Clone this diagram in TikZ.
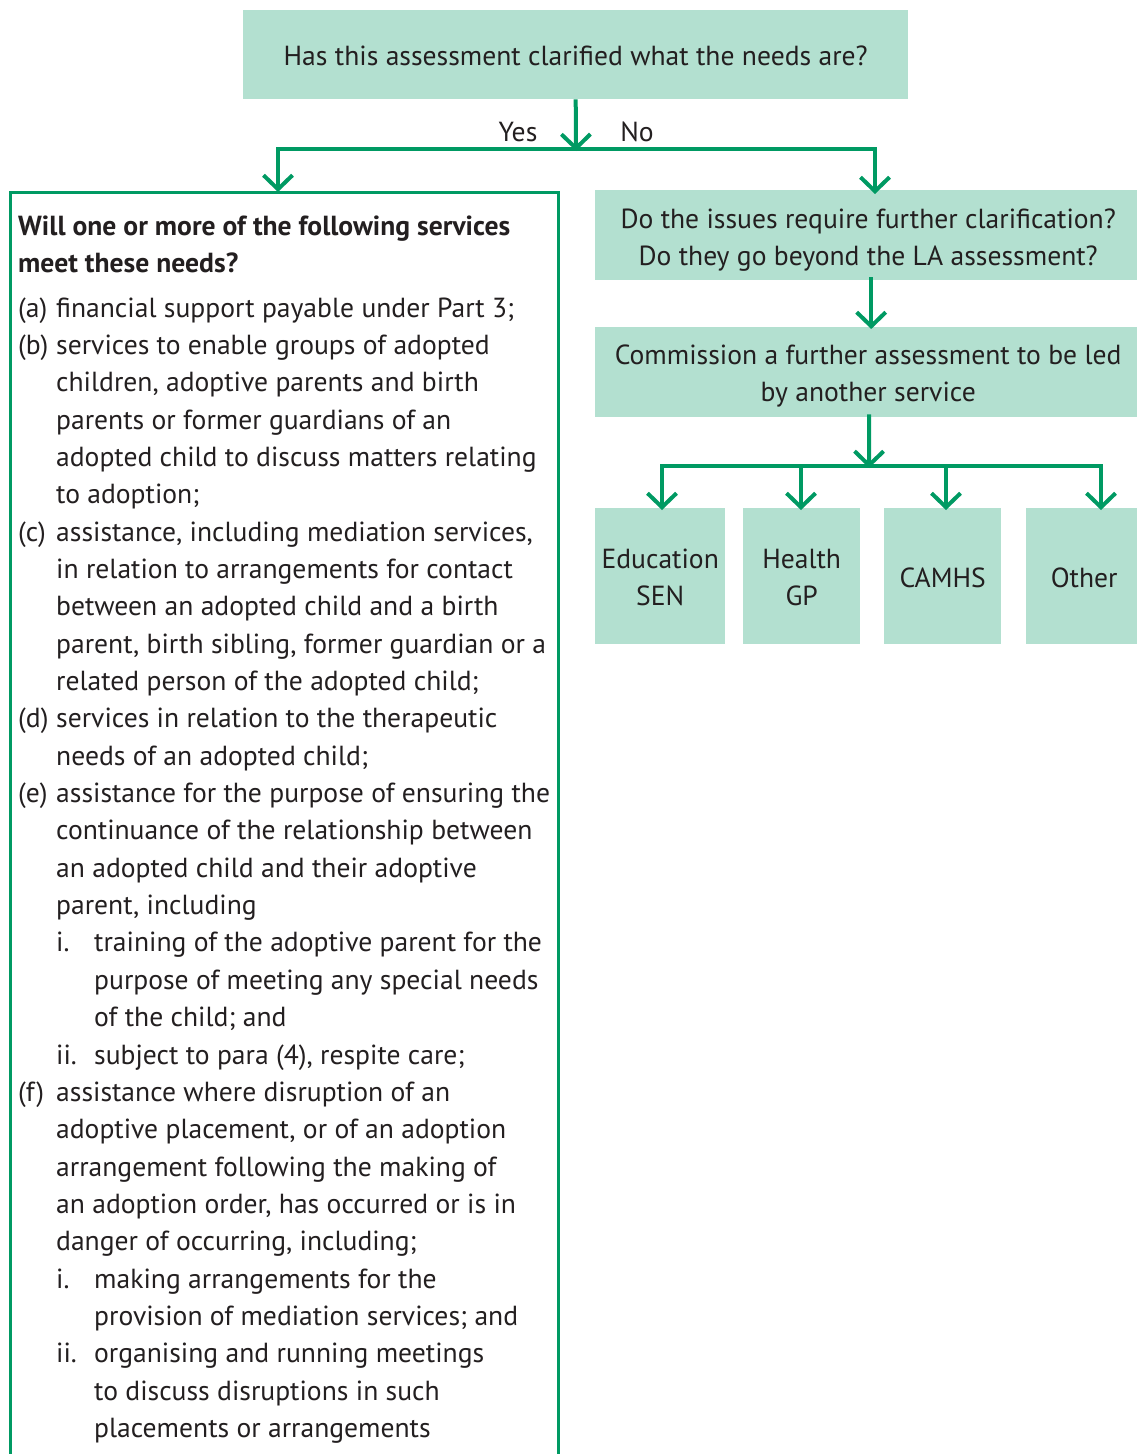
\documentclass[tikz,border=0pt]{standalone}
\usepackage{fontspec}
\setmainfont{PT Sans}
\usetikzlibrary{arrows.meta}
\definecolor{boxfill}{RGB}{179,224,208}
\definecolor{gline}{RGB}{0,154,99}
\definecolor{ink}{RGB}{35,31,32}
\newlength\reflen
\AtBeginDocument{%
  \settowidth\reflen{\fontsize{20pt}{24pt}\selectfont Has this assessment clarified what the needs are?}%
  \pgfmathsetmacro\fsz{20*584/\reflen}%
  \xdef\fsz{\fsz}}
\newcommand\btext[2]{\raisebox{-#1pt}[0pt][0pt]{\begin{tabular}[t]{@{}c@{}}#2\end{tabular}}}
\newcommand\Lrow[3]{\node[txt] (r#1) at (#2,{317+(#1-1)*37.35}) {#3};}
\newcommand\Llab[4]{\node[txt] (#1) at (#2,{317+(#3-1)*37.35}) {#4};}
\begin{document}
\begin{tikzpicture}[x=1pt,y=-1pt]
\tikzset{
  every node/.style={font=\fontsize{\fsz}{37.35}\selectfont, text=ink},
  txt/.style={anchor=base west, inner sep=0pt},
  hdr/.style={txt, font=\fontsize{\fsz}{37.35}\selectfont\bfseries},
  fbox/.style={fill=boxfill, inner sep=0pt, anchor=north west},
  conn/.style={draw=gline, line width=4pt, line join=miter},
  arr/.style={conn, -{Straight Barb[length=14pt,width=29pt]}},
  twoarr/.style={conn, {Straight Barb[length=14pt,width=29pt]}-{Straight Barb[length=14pt,width=29pt]}}
}
\fill[white] (0,0) rectangle (1137,1454);
\useasboundingbox (0,0) rectangle (1137,1454);

% top question
\node[fbox, minimum width=665, minimum height=89] (q1) at (243,10) {\btext{10.5}{Has this assessment clarified what the needs are?}};
\node[anchor=base, inner sep=0pt] (yes) at (518,141) {Yes};
\node[anchor=base, inner sep=0pt] (no) at (637,141) {No};

% left box
\node[draw=gline, line width=2.5pt, anchor=north west, inner sep=0pt, minimum width=548, minimum height=1300] (L) at (9,191) {};

% right boxes
\node[fbox, minimum width=546, minimum height=90] (R1) at (595,190) {\btext{-7}{Do the issues require further clarification?\\Do they go beyond the LA assessment?}};
\node[fbox, minimum width=546, minimum height=90] (R2) at (595,327) {\btext{-8}{Commission a further assessment to be led\\by another service}};

\node[fbox, minimum width=130, minimum height=136] (A) at (595,508) {\btext{-8}{Education\\SEN}};
\node[fbox, minimum width=117, minimum height=136] (B) at (743,508) {\btext{-8}{Health\\GP}};
\node[fbox, minimum width=117, minimum height=136] (C) at (884,508) {\btext{11}{CAMHS}};
\node[fbox, minimum width=116, minimum height=136] (D) at (1026,508) {\btext{11}{Other}};

% connectors: first fork
\coordinate (j1) at (576,149);
\coordinate (j1l) at (278,149);
\coordinate (j1r) at (875,149);
\draw[arr] (q1.south) -- ([yshift=-2]j1);
\draw[twoarr] ([yshift=-1]L.north -| j1l) -- (j1l) -- (j1r) -- ([yshift=-4]R1.north -| j1r);

% right chain
\draw[arr] ([xshift=3,yshift=3]R1.south) -- ([xshift=3,yshift=-2]R2.north);
\coordinate (j2) at (869,466);
\coordinate (fA) at (662,466);
\coordinate (fB) at (801,466);
\coordinate (fC) at (946,466);
\coordinate (fD) at (1101,466);
\draw[arr] ([xshift=1,yshift=3]R2.south) -- ([yshift=-2]j2);
\draw[twoarr] ([yshift=-2]A.north -| fA) -- (fA) -- (fD) -- ([yshift=-2]D.north -| fD);
\draw[arr] (fB) -- ([yshift=-2]B.north -| fB);
\draw[arr] (fC) -- ([yshift=-2]C.north -| fC);

% left box text
\node[hdr] (h1) at (18,235) {Will one or more of the following services};
\node[hdr] (h2) at (18,272) {meet these needs?};

\Llab{la}{18}{1}{(a)}
\Llab{lb}{18}{2}{(b)}
\Llab{lc}{18}{7}{(c)}
\Llab{ld}{18}{12}{(d)}
\Llab{le}{18}{14}{(e)}
\Llab{lei}{56}{18}{i.}
\Llab{leii}{56}{21}{ii.}
\Llab{lf}{18}{22}{(f)}
\Llab{lfi}{56}{27}{i.}
\Llab{lfii}{56}{29}{ii.}

\Lrow{1}{56}{financial support payable under Part 3;}
\Lrow{2}{56}{services to enable groups of adopted}
\Lrow{3}{56}{children, adoptive parents and birth}
\Lrow{4}{56}{parents or former guardians of an}
\Lrow{5}{56}{adopted child to discuss matters relating}
\Lrow{6}{56}{to adoption;}
\Lrow{7}{56}{assistance, including mediation services,}
\Lrow{8}{56}{in relation to arrangements for contact}
\Lrow{9}{56}{between an adopted child and a birth}
\Lrow{10}{56}{parent, birth sibling, former guardian or a}
\Lrow{11}{56}{related person of the adopted child;}
\Lrow{12}{56}{services in relation to the therapeutic}
\Lrow{13}{56}{needs of an adopted child;}
\Lrow{14}{56}{assistance for the purpose of ensuring the}
\Lrow{15}{56}{continuance of the relationship between}
\Lrow{16}{56}{an adopted child and their adoptive}
\Lrow{17}{56}{parent, including}
\Lrow{18}{94}{training of the adoptive parent for the}
\Lrow{19}{94}{purpose of meeting any special needs}
\Lrow{20}{94}{of the child; and}
\Lrow{21}{94}{subject to para (4), respite care;}
\Lrow{22}{56}{assistance where disruption of an}
\Lrow{23}{56}{adoptive placement, or of an adoption}
\Lrow{24}{56}{arrangement following the making of}
\Lrow{25}{56}{an adoption order, has occurred or is in}
\Lrow{26}{56}{danger of occurring, including;}
\Lrow{27}{94}{making arrangements for the}
\Lrow{28}{94}{provision of mediation services; and}
\Lrow{29}{94}{organising and running meetings}
\Lrow{30}{94}{to discuss disruptions in such}
\Lrow{31}{94}{placements or arrangements}
\end{tikzpicture}
\end{document}
